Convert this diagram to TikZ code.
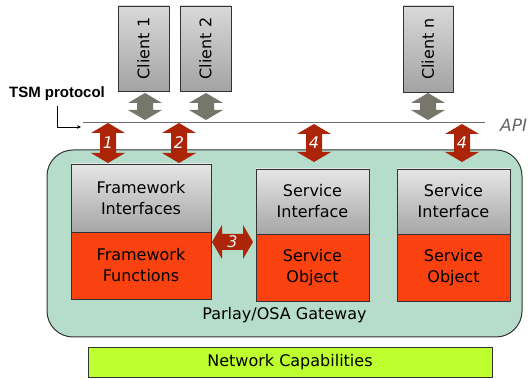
\documentclass[tikz,border=0pt]{standalone}
\usepackage{fontspec}
\usetikzlibrary{arrows.meta}
\setmainfont{DejaVu Sans}
\newfontfamily\tsmfont{Liberation Sans}
\definecolor{teal1}{HTML}{B6DCCB}
\definecolor{orng}{HTML}{F9420F}
\definecolor{redarr}{HTML}{AD2509}
\definecolor{grayarr}{HTML}{76766A}
\definecolor{lime1}{HTML}{BDFF2F}
\definecolor{bord}{HTML}{333333}
\newcommand\vdblarrow[5]{%
  \fill[#1] (#2,#3) -- (#2+17,#3+10) -- (#2+8,#3+10) -- (#2+8,#4-10) -- (#2+17,#4-10) -- (#2,#4)
    -- (#2-17,#4-10) -- (#2-8,#4-10) -- (#2-8,#3+10) -- (#2-17,#3+10) -- cycle;
  \coordinate (#5) at (#2,{(#3+#4)/2});}
\tikzset{
  client/.style={draw=bord, line width=0.8pt, top color=gray!30, bottom color=gray!72, minimum width=51pt, minimum height=85pt, inner sep=0pt},
  iface/.style={draw=bord, line width=0.8pt, top color=gray!20, bottom color=gray!70, inner sep=0pt, align=center, font=\fontsize{16}{21}\selectfont},
  func/.style={draw=bord, line width=0.8pt, fill=orng, inner sep=0pt, align=center, font=\fontsize{16}{21}\selectfont},
  num/.style={text=white, font=\fontsize{16}{16}\selectfont\itshape, inner sep=0pt},
  ctext/.style={rotate=90, font=\fontsize{16}{16}\selectfont},
}
\begin{document}
\begin{tikzpicture}[x=1pt,y=-1pt]
\useasboundingbox (0,0) rectangle (531,379);
% clients
\node[client] (c1) at (143.5,48.5) {};
\node[ctext] (c1t) at (c1) {Client 1};
\node[client] (c2) at (205.5,48.5) {};
\node[ctext] (c2t) at (c2) {Client 2};
\node[client, minimum width=50pt, minimum height=86pt] (cn) at (428,49) {};
\node[ctext] (cnt) at (cn) {Client n};
% gray arrows
\vdblarrow{grayarr}{145}{93}{120}{g1}
\vdblarrow{grayarr}{206}{93}{120}{g2}
\vdblarrow{grayarr}{428}{93}{120}{gn}
% API line
\coordinate (apiL) at (83,122.5);
\coordinate (apiR) at (485,122.5);
\draw[gray!85!black, line width=1.3pt] (apiL) -- (apiR);
\node[anchor=west, text=gray!80!black, font=\fontsize{17}{17}\selectfont\itshape, inner sep=0pt] (api) at (500,125) {API};
% TSM protocol
\node[font=\tsmfont\bfseries\fontsize{15}{15}\selectfont, inner sep=0pt] (tsm) at (57,94) {TSM protocol};
\coordinate (tsms) at (57,106);
\coordinate (tsmc) at (57,127);
\coordinate (tsme) at (81,127);
\draw[line width=0.6pt, -{Stealth[length=4pt,width=3.5pt]}] (tsms) -- (tsmc) -- (tsme);
% gateway
\draw[fill=teal1, draw=bord, line width=1pt, rounded corners=26pt] (47,150) rectangle (522,337);
\node[font=\fontsize{16}{16}\selectfont] (gw) at (284.5,315) {Parlay/OSA Gateway};
% red arrows
\vdblarrow{redarr}{108}{123}{163}{r1}
\node[num] at (r1) {1};
\vdblarrow{redarr}{179}{123}{163}{r2}
\node[num] at (r2) {2};
\vdblarrow{redarr}{314}{124}{162}{r4a}
\node[num] at (r4a) {4};
\vdblarrow{redarr}{462}{124}{162}{r4b}
\node[num] at (r4b) {4};
% framework
\node[iface, minimum width=140pt, minimum height=68pt] (fi) at (141,198) {Framework\\Interfaces};
\node[func, minimum width=140pt, minimum height=67pt] (ff) at (141,265.5) {Framework\\Functions};
% service 1
\node[iface, minimum width=113pt, minimum height=65pt] (si1) at (312.5,201.5) {Service\\Interface};
\node[func, minimum width=113pt, minimum height=67pt] (so1) at (312.5,267.5) {Service\\Object};
% service 2
\node[iface, minimum width=113pt, minimum height=65pt] (si2) at (453.5,201.5) {Service\\Interface};
\node[func, minimum width=113pt, minimum height=67pt] (so2) at (453.5,267.5) {Service\\Object};
% arrow 3
\fill[redarr] (212,242) -- (222,225) -- (222,234) -- (243,234) -- (243,225) -- (253,242)
  -- (243,259) -- (243,250) -- (222,250) -- (222,259) -- cycle;
\node[num, text=white!85!gray] (r3) at (232.5,242) {3};
% network capabilities
\node[draw=bord, line width=0.8pt, fill=lime1, minimum width=404pt, minimum height=30pt, font=\fontsize{16}{16}\selectfont] (nc) at (290,362) {Network Capabilities};
\end{tikzpicture}
\end{document}
